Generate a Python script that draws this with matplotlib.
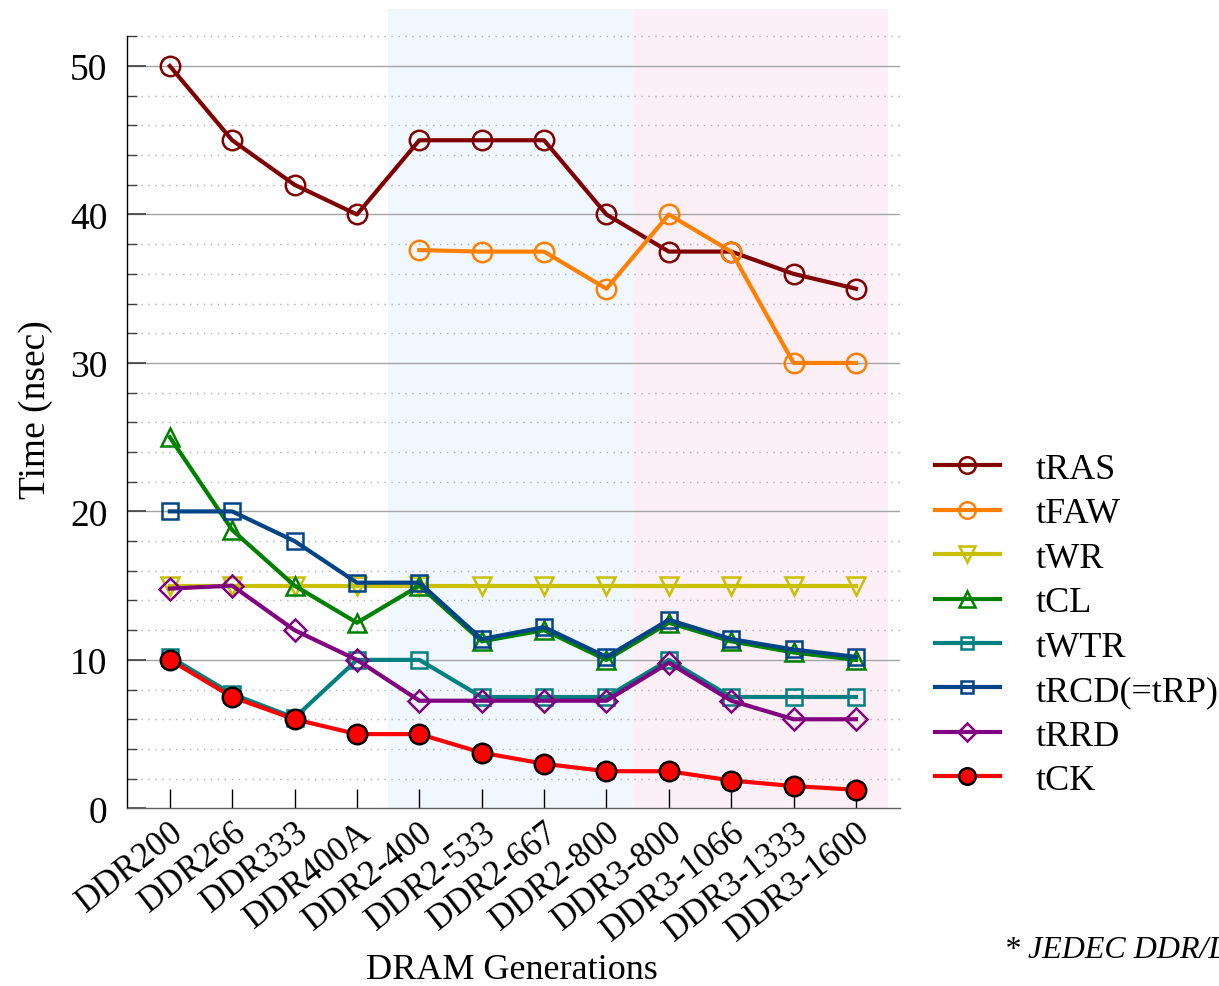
import matplotlib
matplotlib.use("Agg")
import matplotlib.pyplot as plt
from matplotlib.ticker import MultipleLocator
import numpy as np

plt.rcParams['font.family'] = ['Liberation Serif', 'DejaVu Serif']

generations = ["DDR200", "DDR266", "DDR333", "DDR400A", "DDR2-400", "DDR2-533",
               "DDR2-667", "DDR2-800", "DDR3-800", "DDR3-1066", "DDR3-1333", "DDR3-1600"]

tRAS = [50, 45, 42, 40, 45, 45, 45, 40, 37.5, 37.5, 36, 35]
tFAW = [np.nan, np.nan, np.nan, np.nan, 37.6, 37.5, 37.5, 35, 40, 37.5, 30, 30]
tWR = [15, 15, 15, 15, 15, 15, 15, 15, 15, 15, 15, 15]
tCL = [25, 18.75, 15, 12.5, 15, 11.25, 12, 10, 12.5, 11.25, 10.5, 10]
tWTR = [10.2, 7.7, 6.1, 10, 10, 7.5, 7.5, 7.5, 10, 7.5, 7.5, 7.5]
tRCD = [20, 20, 18, 15.2, 15.2, 11.4, 12.2, 10.2, 12.7, 11.4, 10.7, 10.2]
tRRD = [14.8, 15, 12, 10, 7.25, 7.25, 7.25, 7.25, 9.8, 7.25, 6, 6]
tCK = [10, 7.5, 6, 5, 5, 3.75, 3, 2.5, 2.5, 1.875, 1.5, 1.25]

fig = plt.figure(figsize=(12.19, 9.87), dpi=100)
ax = fig.add_axes([0.104, 0.180, 0.634, 0.810])

x = np.arange(len(generations))

# background bands for the DDR2 and DDR3 eras
ax.axvspan(3.5, 7.42, color='#f0f7fe', zorder=0, lw=0)
ax.axvspan(7.42, 11.52, color='#fdeff6', zorder=0, lw=0)

# grid lines: solid every 10 ns, dotted every 2 ns
for v in np.arange(2, 53, 2):
    if v % 10 == 0:
        ax.axhline(v, color='#a4a4a4', lw=1.0, zorder=1)
    else:
        ax.axhline(v, color='#b0b0b0', lw=1.0, ls=(0, (1, 4)), zorder=1)

lw = 3.0
mew = 1.8
series = [
    ("tRAS", tRAS, '#800000', 'o', 14, 'none'),
    ("tFAW", tFAW, '#ff8000', 'o', 14, 'none'),
    ("tWR", tWR, '#c8c000', 'v', 13, 'none'),
    ("tCL", tCL, '#008000', '^', 13, 'none'),
    ("tWTR", tWTR, '#008080', 's', 11, 'none'),
    ("tRCD(=tRP)", tRCD, '#004488', 's', 11, 'none'),
    ("tRRD", tRRD, '#800080', 'D', 11, 'none'),
    ("tCK", tCK, '#ff0000', 'o', 14, '#ff0000'),
]

handles = []
for name, vals, col, mk, ms, mfc in series:
    mec = 'black' if mfc != 'none' else col
    h, = ax.plot(x, vals, color=col, lw=lw, marker=mk, markersize=ms,
                 markerfacecolor=mfc, markeredgecolor=mec, markeredgewidth=mew,
                 label=name, zorder=3)
    handles.append(h)

ax.set_xlim(-0.69, 11.7)
ax.set_ylim(0, 53.85)
ax.set_yticks([0, 10, 20, 30, 40, 50])
ax.yaxis.set_minor_locator(MultipleLocator(2))
ax.set_xticks(x)
ax.set_xticklabels(generations, rotation=38, ha='right', va='top',
                   rotation_mode='anchor', fontsize=25)

for s in ['top', 'right']:
    ax.spines[s].set_visible(False)
ax.spines['left'].set_bounds(0, 52)
ax.spines['left'].set_linewidth(1.0)
ax.spines['bottom'].set_linewidth(1.0)
ax.spines['bottom'].set_color('#606060')

ax.tick_params(axis='y', which='major', direction='in', length=14, width=1.2,
               labelsize=27, pad=14, color='#404040')
ax.tick_params(axis='y', which='minor', direction='in', length=7, width=1.0,
               color='#404040')
ax.tick_params(axis='x', which='major', direction='in', length=14, width=1.0,
               pad=5)

ax.set_ylabel("Time (nsec)", fontsize=27, labelpad=12)
fig.text(0.42, 0.0, "DRAM Generations", fontsize=26, ha='center', va='bottom')
fig.text(0.824, 0.022, "* JEDEC DDR/LPDDR", fontsize=23, fontstyle='italic',
         ha='left', va='bottom')

fig.legend(handles=handles, loc='center left', bbox_to_anchor=(0.767, 0.366),
           frameon=False, fontsize=26, handlelength=1.8, handletextpad=1.0,
           labelspacing=0.31, markerscale=0.85, borderpad=0, borderaxespad=0)

fig.savefig("out.png", dpi=100, facecolor='white')
